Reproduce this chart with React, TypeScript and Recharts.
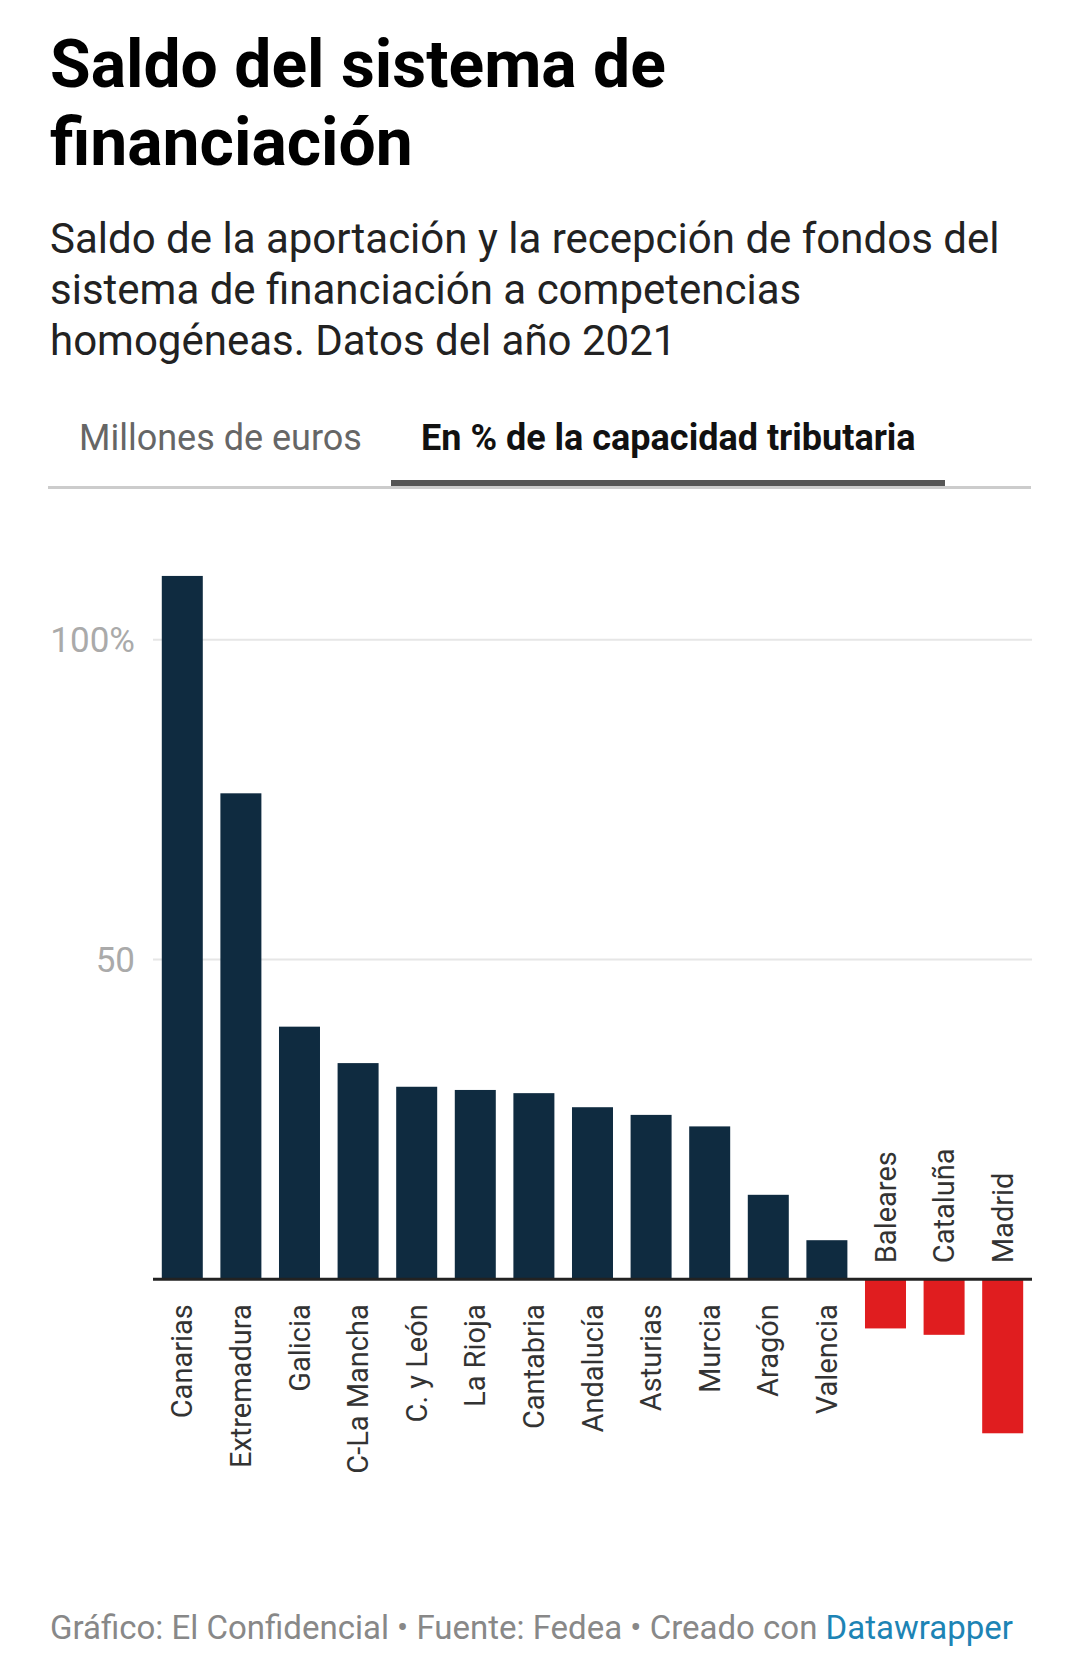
import { BarChart, Bar, XAxis, YAxis, CartesianGrid, ReferenceLine } from 'recharts'

const regions = [
  'Canarias', 'Extremadura', 'Galicia', 'C-La Mancha', 'C. y León', 'La Rioja', 'Cantabria',
  'Andalucía', 'Asturias', 'Murcia', 'Aragón', 'Valencia', 'Baleares', 'Cataluña', 'Madrid',
]
// saldo en % de la capacidad tributaria, 2021
const saldo = [110.0, 76.0, 39.5, 33.8, 30.1, 29.6, 29.1, 26.9, 25.7, 23.9, 13.2, 6.1, -7.7, -8.7, -24.1]
const yTicks = [50, 100]

const NAVY = '#0f2b40'
const RED = '#e01d1f'
const FONT = 'Roboto, "Noto Sans", sans-serif'

const data = regions.map((region, i) => ({ region, saldo: saldo[i] }))

// bar + rotated region label next to the zero line
function RegionBar(props: any) {
  const { x, y, width, height, payload } = props
  const top = Math.min(y, y + height)
  const h = Math.abs(height)
  const neg = payload.saldo < 0
  const base = neg ? top : top + h
  const cx = x + width / 2
  const ly = neg ? base - 16 : base + 25
  return (
    <g>
      <rect x={x} y={top} width={width} height={h} fill={neg ? RED : NAVY} />
      <text
        x={cx}
        y={ly}
        transform={`rotate(-90 ${cx} ${ly})`}
        textAnchor={neg ? 'start' : 'end'}
        dy="0.35em"
        fontSize={29}
        fill="#333"
        fontFamily={FONT}
      >
        {payload.region}
      </text>
    </g>
  )
}

export default function App() {
  return (
    <div style={{ position: 'absolute', left: 0, top: 0, width: 1080, height: 1673, background: '#fff', fontFamily: FONT, overflow: 'hidden' }}>
      <div style={{ position: 'absolute', left: 50, top: 26, fontSize: 66, fontWeight: 700, lineHeight: '78px', color: '#000', whiteSpace: 'nowrap' }}>
        Saldo del sistema de<br />financiación
      </div>
      <div style={{ position: 'absolute', left: 50, top: 213, fontSize: 42, lineHeight: '51px', color: '#222', whiteSpace: 'nowrap' }}>
        Saldo de la aportación y la recepción de fondos del<br />
        sistema de financiación a competencias<br />
        homogéneas. Datos del año 2021
      </div>

      <div style={{ position: 'absolute', left: 79, top: 418, fontSize: 36, lineHeight: '40px', color: '#666', whiteSpace: 'nowrap' }}>
        Millones de euros
      </div>
      <div style={{ position: 'absolute', left: 421, top: 418, fontSize: 36, lineHeight: '40px', color: '#111', fontWeight: 700, whiteSpace: 'nowrap' }}>
        En % de la capacidad tributaria
      </div>
      <div style={{ position: 'absolute', left: 48, top: 486, width: 983, height: 3, background: '#ccc' }} />
      <div style={{ position: 'absolute', left: 391, top: 480, width: 554, height: 6, background: '#555' }} />

      <div style={{ position: 'absolute', left: 0, top: 500 }}>
        <BarChart
          width={1080}
          height={1000}
          data={data}
          margin={{ top: 12, right: 48, bottom: 29, left: 0 }}
          barCategoryGap="15%"
        >
          <CartesianGrid vertical={false} stroke="#e6e6e6" strokeWidth={2} syncWithTicks />
          <XAxis dataKey="region" hide />
          <YAxis
            type="number"
            domain={[-30, 120]}
            ticks={yTicks}
            width={153}
            axisLine={false}
            tickLine={false}
            tickSize={0}
            tickMargin={18}
            tick={{ fontSize: 35, fill: '#aaa', fontFamily: FONT }}
            tickFormatter={(v: number) => (v === 100 ? '100%' : String(v))}
          />
          <Bar dataKey="saldo" shape={RegionBar} isAnimationActive={false} />
          <ReferenceLine y={0} stroke="#222" strokeWidth={3} />
        </BarChart>
      </div>

      <div style={{ position: 'absolute', left: 50, top: 1608, fontSize: 33, lineHeight: '40px', color: '#888', whiteSpace: 'nowrap' }}>
        Gráfico: El Confidencial • Fuente: Fedea • Creado con <span style={{ color: '#1d84b5' }}>Datawrapper</span>
      </div>
    </div>
  )
}
